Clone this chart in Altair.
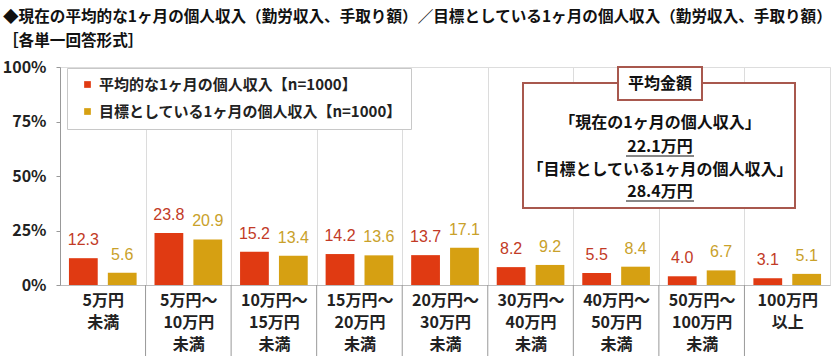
import altair as alt
import pandas as pd

categories = ["5万円|未満", "5万円～|10万円|未満", "10万円～|15万円|未満", "15万円～|20万円|未満",
              "20万円～|30万円|未満", "30万円～|40万円|未満", "40万円～|50万円|未満",
              "50万円～|100万円|未満", "100万円|以上"]
series_names = ["平均的な1ヶ月の個人収入【n=1000】", "目標としている1ヶ月の個人収入【n=1000】"]
current_values = [12.3, 23.8, 15.2, 14.2, 13.7, 8.2, 5.5, 4.0, 3.1]
target_values = [5.6, 20.9, 13.4, 13.6, 17.1, 9.2, 8.4, 6.7, 5.1]
y_ticks = [0, 25, 50, 75, 100]

title_line1 = "◆現在の平均的な1ヶ月の個人収入（勤労収入、手取り額）／目標としている1ヶ月の個人収入（勤労収入、手取り額）"
title_line2 = "［各単一回答形式］"
box_title = "平均金額"
box_lines = ["「現在の1ヶ月の個人収入」", "22.1万円", "「目標としている1ヶ月の個人収入」", "28.4万円"]

BAR_RED = "#E03A12"
BAR_GOLD = "#D6A012"
TXT_RED = "#C23A26"
TXT_GOLD = "#C9A12A"
BOX = "#A8584E"
FONT = "Noto Sans CJK JP"

rows = []
for c, v in zip(categories, current_values):
    rows.append({"cat": c, "series": series_names[0], "value": v})
for c, v in zip(categories, target_values):
    rows.append({"cat": c, "series": series_names[1], "value": v})
df = pd.DataFrame(rows)
sep_df = pd.DataFrame({"cat": categories[1:]})

W, H = 770, 218

x_enc = alt.X("cat:N", sort=categories, title=None,
              scale=alt.Scale(paddingInner=0, paddingOuter=0),
              axis=alt.Axis(labelExpr="isValid(datum.value) ? split(datum.value, '|') : ''",
                            labelAngle=0,
                            labelFontSize=16, labelFontWeight="bold", labelColor="#222",
                            labelFont=FONT, labelLineHeight=22, labelPadding=7,
                            labelBaseline="top", ticks=False,
                            tickBand="extent",
                            domainColor="#bbb", grid=True, gridColor="#dcdcdc"))
xo_enc = alt.XOffset("series:N", sort=series_names,
                     scale=alt.Scale(paddingInner=0.26, paddingOuter=0.23))
y_enc = alt.Y("value:Q", title=None,
              scale=alt.Scale(domain=[0, 100], nice=False),
              axis=alt.Axis(values=y_ticks, labelExpr="datum.value + '%'", grid=False,
                            labelFontSize=16, labelFont=FONT, labelFontWeight="bold",
                            labelColor="#222", labelPadding=10, tickSize=4,
                            tickColor="#999", domainColor="#999"))

bars = alt.Chart(df).mark_bar().encode(
    x=x_enc, xOffset=xo_enc, y=y_enc,
    color=alt.Color("series:N", sort=series_names,
                    scale=alt.Scale(domain=series_names, range=[BAR_RED, BAR_GOLD]),
                    legend=alt.Legend(title=None, orient="none", legendX=7, legendY=1,
                                      fillColor="white", strokeColor="#c8c8c8",
                                      padding=9, symbolType="square", symbolSize=45,
                                      labelFontSize=15, labelFontWeight="bold",
                                      labelFont=FONT, labelColor="#222",
                                      rowPadding=11, labelLimit=400, symbolOffset=4)),
)

labels = alt.Chart(df).mark_text(dy=-10, baseline="bottom", fontSize=16, font="Liberation Sans").encode(
    x=alt.X("cat:N", sort=categories), xOffset=alt.XOffset("series:N", sort=series_names),
    y="value:Q",
    text=alt.Text("value:Q", format=".1f"),
    color=alt.condition(alt.datum.series == series_names[0], alt.value(TXT_RED), alt.value(TXT_GOLD)),
)

separators = alt.Chart(sep_df).mark_rule(color="#999", strokeWidth=1).encode(
    x=alt.X("cat:N", sort=categories, bandPosition=0),
    y=alt.value(H), y2=alt.value(H + 71),
)

one = pd.DataFrame({"k": [0]})
base = alt.Chart(one)

title1 = base.mark_text(align="left", baseline="middle", fontSize=15.6, fontWeight="bold",
                        font=FONT, color="#111").encode(
    x=alt.value(-57), y=alt.value(-50), text=alt.value(title_line1))
title2 = base.mark_text(align="left", baseline="middle", fontSize=15.6, fontWeight="bold",
                        font=FONT, color="#111").encode(
    x=alt.value(-57), y=alt.value(-26), text=alt.value(title_line2))

box = base.mark_rect(fill="white", stroke=BOX, strokeWidth=2).encode(
    x=alt.value(463), x2=alt.value(735), y=alt.value(16), y2=alt.value(141))
tab = base.mark_rect(fill="white", stroke=BOX, strokeWidth=2).encode(
    x=alt.value(558), x2=alt.value(642), y=alt.value(0), y2=alt.value(33))
tab_text = base.mark_text(fontSize=16, fontWeight="bold", font=FONT, color="#111").encode(
    x=alt.value(600), y=alt.value(17), text=alt.value(box_title))

line_layers = []
for i, yy in enumerate([56, 80, 103, 125]):
    line_layers.append(base.mark_text(fontSize=16, fontWeight="bold", font=FONT, color="#111").encode(
        x=alt.value(600), y=alt.value(yy), text=alt.value(box_lines[i])))
ul1 = base.mark_rule(color="#111", strokeWidth=1.2).encode(
    x=alt.value(566), x2=alt.value(634), y=alt.value(89))
ul2 = base.mark_rule(color="#111", strokeWidth=1.2).encode(
    x=alt.value(566), x2=alt.value(634), y=alt.value(134))

chart = alt.layer(bars, labels, separators, title1, title2, box, tab, tab_text, *line_layers, ul1, ul2).properties(
    width=W, height=H,
    autosize=alt.AutoSizeParams(type="none"),
    padding={"left": 60, "top": 67, "right": 10, "bottom": 71},
).configure_view(stroke="#e4e4e4").configure(background="white")

chart.save("out.html", embed_options={"renderer": "svg", "actions": False})
